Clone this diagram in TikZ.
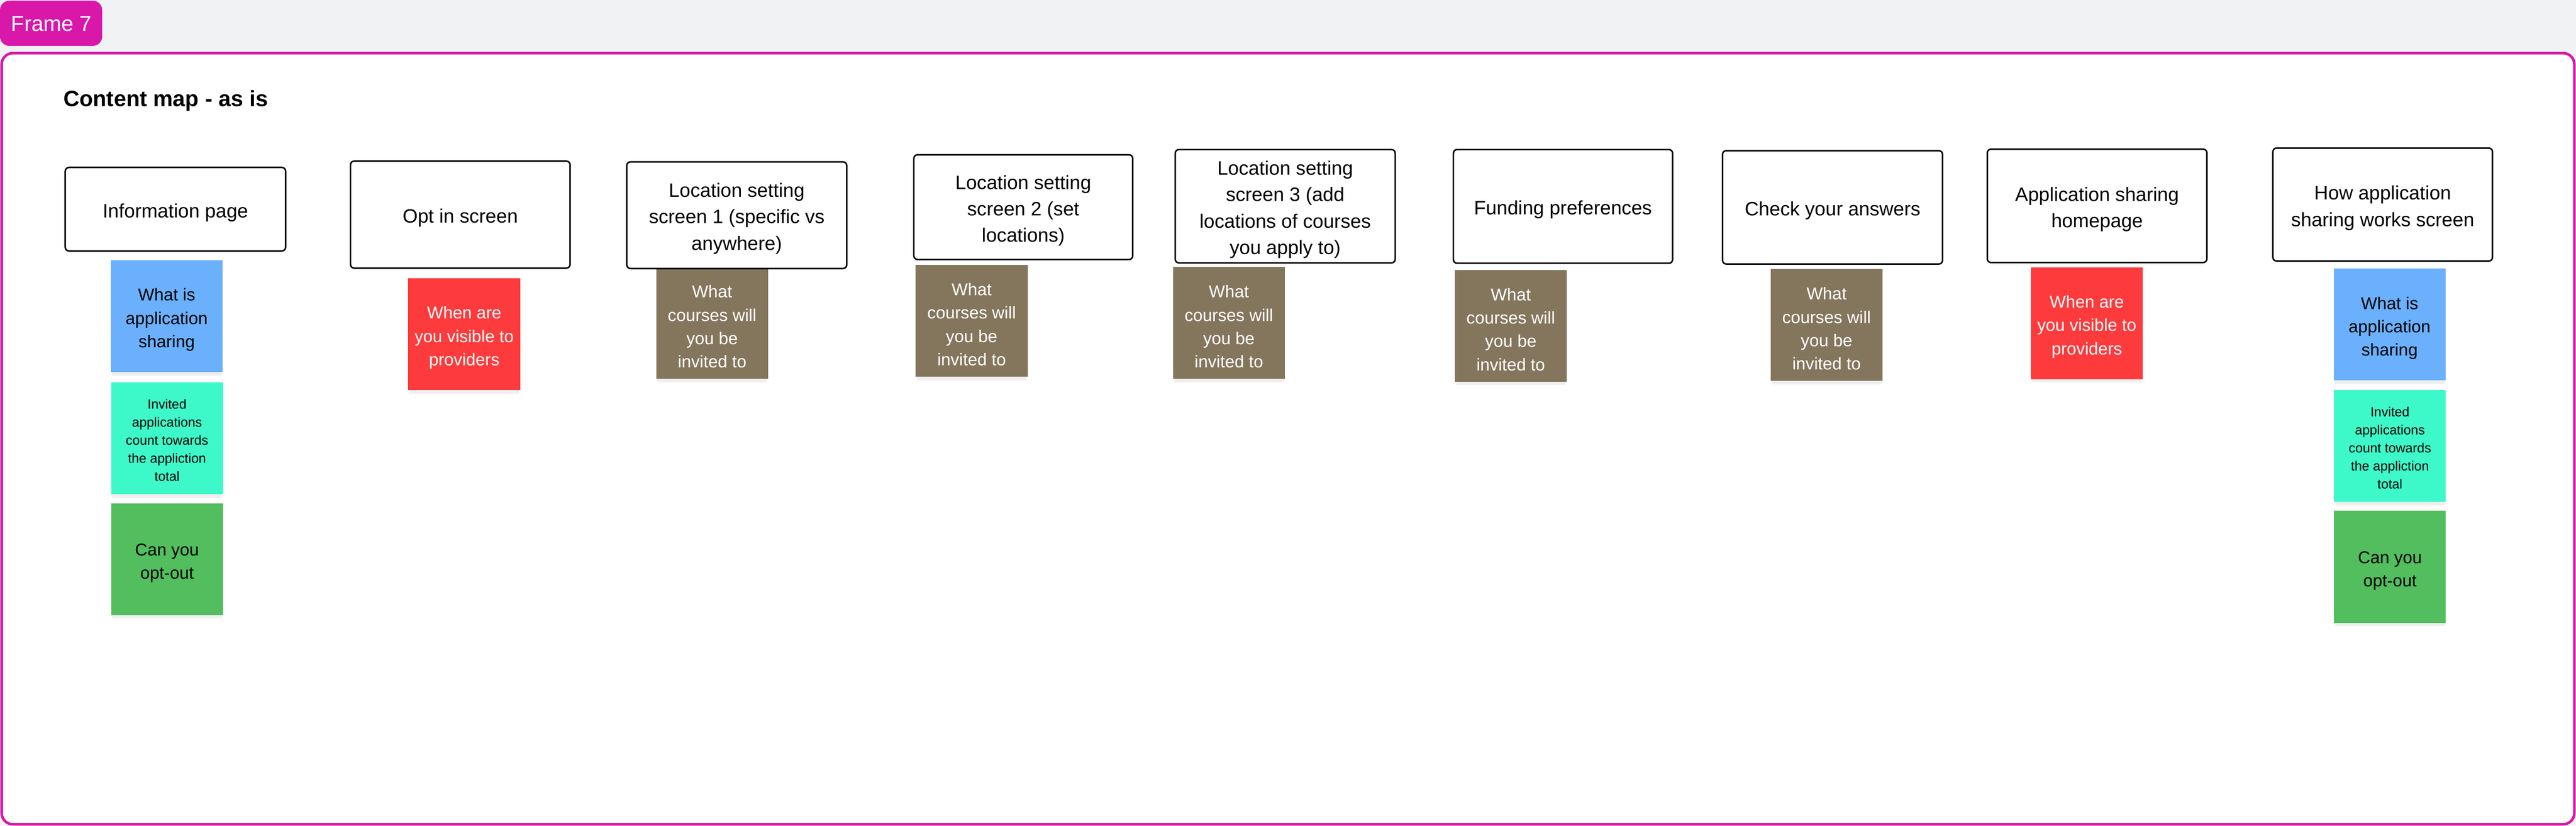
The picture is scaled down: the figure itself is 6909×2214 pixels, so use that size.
\documentclass[tikz,border=0pt]{standalone}
\usepackage{fontspec}
\setmainfont{Liberation Sans}
\usetikzlibrary{shadows}
\definecolor{framemag}{RGB}{217,23,168}
\definecolor{bggray}{RGB}{241,242,244}
\definecolor{stblue}{RGB}{107,176,252}
\definecolor{stteal}{RGB}{61,249,201}
\definecolor{stgreen}{RGB}{82,190,94}
\definecolor{stred}{RGB}{253,58,60}
\definecolor{stbrown}{RGB}{132,118,93}
\newcommand{\boxfont}{\fontsize{10.4pt}{14.2pt}\selectfont}
\newcommand{\stickyfont}{\fontsize{9.2pt}{12.5pt}\selectfont}
\newcommand{\smallstickyfont}{\fontsize{7.1pt}{9.7pt}\selectfont}
\newcommand{\bxs}{\rule{0pt}{11.2pt}}
\newcommand{\sts}{\rule{0pt}{10.6pt}}
\newcommand{\tls}{\rule{0pt}{7.2pt}}
\tikzset{
  screenbox/.style={draw=black, line width=0.8pt, rounded corners=2pt, fill=white,
    align=center, inner sep=0pt, font=\boxfont},
  sticky/.style={minimum width=60pt, minimum height=60pt, inner sep=0pt, align=center,
    font=\stickyfont,
    drop shadow={shadow xshift=0pt, shadow yshift=-2.5pt, opacity=0.12, shadow scale=0.98}},
  brownnote/.style={sticky, fill=stbrown, text=white},
  rednote/.style={sticky, fill=stred, text=white},
  bluenote/.style={sticky, fill=stblue, text=black},
  tealnote/.style={sticky, fill=stteal, text=black, font=\smallstickyfont},
  greennote/.style={sticky, fill=stgreen, text=black},
}
\begin{document}
\begin{tikzpicture}[x=0.2pt,y=-0.2pt]
\useasboundingbox (0,0) rectangle (6909,2214);
\fill[bggray] (0,0) rectangle (6909,2214);
% frame
\draw[framemag, line width=1.4pt, fill=white, rounded corners=6pt] (4.5,142.5) rectangle (6904.5,2210.5);
\fill[framemag, rounded corners=5pt] (0,2) rectangle (274,123);
\node[anchor=base west, inner sep=0pt, text=white, font=\fontsize{11.6pt}{14pt}\selectfont] (frametitle) at (29,83) {Frame 7};
\node[anchor=base west, inner sep=0pt, font=\fontsize{11.9pt}{14pt}\selectfont\bfseries] (title) at (169,285) {Content map - as is};

% stickies (drawn first, boxes overlap them)
\node[bluenote] (infoblue) at (447,847.5) {\sts What is\\application\\sharing};
\node[tealnote] (infoteal) at (448,1175) {\tls Invited\\applications\\count towards\\the appliction\\total};
\node[greennote] (infogreen) at (448,1499.5) {\sts Can you\\opt-out};
\node[rednote] (optred) at (1245,896) {\sts When are\\you visible to\\providers};
\node[brownnote] (locAbrown) at (1910,866) {\sts What\\courses will\\you be\\invited to};
\node[brownnote] (locBbrown) at (2606,860) {\sts What\\courses will\\you be\\invited to};
\node[brownnote] (locCbrown) at (3296,866) {\sts What\\courses will\\you be\\invited to};
\node[brownnote] (fundbrown) at (4052,873.5) {\sts What\\courses will\\you be\\invited to};
\node[brownnote] (checkbrown) at (4899,871.5) {\sts What\\courses will\\you be\\invited to};
\node[rednote] (appred) at (5597,866.5) {\sts When are\\you visible to\\providers};
\node[bluenote] (howblue) at (6409,870) {\sts What is\\application\\sharing};
\node[tealnote] (howteal) at (6410,1196) {\tls Invited\\applications\\count towards\\the appliction\\total};
\node[greennote] (howgreen) at (6410,1520) {\sts Can you\\opt-out};

% screen boxes
\node[screenbox, minimum width=118.2pt, minimum height=44.8pt] (info) at (470.5,561) {\bxs Information page};
\node[screenbox, minimum width=117.8pt, minimum height=57.4pt] (optin) at (1234.5,575.5) {\bxs Opt in screen};
\node[screenbox, minimum width=118pt, minimum height=57.2pt] (locA) at (1976,577) {\bxs Location setting\\screen 1 (specific vs\\anywhere)};
\node[screenbox, minimum width=117.4pt, minimum height=56.2pt] (locB) at (2744.5,555.5) {\bxs Location setting\\screen 2 (set\\locations)};
\node[screenbox, minimum width=118pt, minimum height=60.8pt] (locC) at (3447,553) {\bxs Location setting\\screen 3 (add\\locations of courses\\you apply to)};
\node[screenbox, minimum width=117.6pt, minimum height=61pt] (fund) at (4192,553.5) {\bxs Funding preferences};
\node[screenbox, minimum width=118pt, minimum height=60.8pt] (check) at (4915,556) {\bxs Check your answers};
\node[screenbox, minimum width=117.8pt, minimum height=60.8pt] (appshare) at (5624.5,552) {\bxs Application sharing\\homepage};
\node[screenbox, minimum width=117.8pt, minimum height=60.6pt] (how) at (6390.5,548.5) {\bxs How application\\sharing works screen};
\end{tikzpicture}
\end{document}
